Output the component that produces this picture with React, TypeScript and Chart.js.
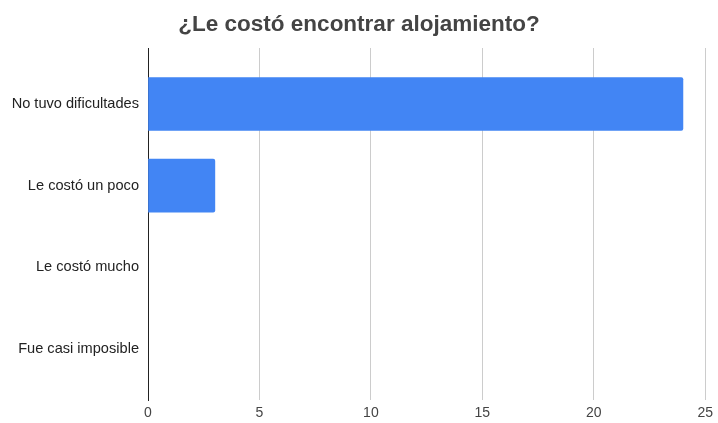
import React, { useEffect, useRef } from "react";
import { Chart, registerables } from "chart.js";

Chart.register(...registerables);

const title = "¿Le costó encontrar alojamiento?";
const categories = ["No tuvo dificultades", "Le costó un poco", "Le costó mucho", "Fue casi imposible"];
const values = [24, 3, 0, 0];
const xTicks = [0, 5, 10, 15, 20, 25];

const FONT = "'Liberation Sans', Arial, sans-serif";

export default function App() {
  const ref = useRef<HTMLCanvasElement>(null);
  useEffect(() => {
    if (!ref.current) return;
    const chart = new Chart(ref.current, {
      type: "bar",
      data: {
        datasets: [
          {
            data: values.map((v, i) => ({ x: v, y: i })),
            backgroundColor: values.map((v) => (v > 0 ? "#4285f4" : "rgba(0,0,0,0)")),
            borderRadius: 2,
            borderSkipped: "start",
            barThickness: 53,
          },
        ],
      },
      options: {
        indexAxis: "y",
        animation: false,
        responsive: false,
        maintainAspectRatio: false,
        layout: { padding: { top: 0, right: 10, bottom: 0, left: 10 } },
        plugins: {
          legend: { display: false },
          tooltip: { enabled: false },
          title: {
            display: true,
            text: title,
            color: "#444444",
            font: { family: FONT, size: 22.5, weight: "bold" },
            padding: { top: 11, bottom: 10 },
          },
        },
        scales: {
          x: {
            type: "linear",
            min: xTicks[0],
            max: xTicks[xTicks.length - 1],
            afterBuildTicks: (s: any) => {
              s.ticks = xTicks.map((v) => ({ value: v }));
            },
            afterFit: (s: any) => {
              s.height = 23;
            },
            grid: { color: "#cccccc", drawTicks: false, lineWidth: 1 },
            border: { display: false },
            ticks: {
              padding: 5,
              color: "#444444",
              font: { family: FONT, size: 14 },
            },
          },
          y: {
            type: "linear",
            reverse: true,
            offset: false,
            z: 1,
            min: -0.686,
            max: 3.624,
            afterBuildTicks: (s: any) => {
              s.ticks = categories.map((_, i) => ({ value: i }));
            },
            afterFit: (s: any) => {
              s.width = 138;
            },
            grid: { display: false, drawTicks: false, offset: false },
            border: { display: true, color: "#222222", width: 1 },
            ticks: {
              padding: 9,
              color: "#222222",
              font: { family: FONT, size: 14.6 },
              callback: (v: any) => categories[v as number] ?? "",
            },
          },
        },
      } as any,
    });
    return () => chart.destroy();
  }, []);
  return (
    <div style={{ position: "fixed", left: 0, top: 0, width: 718, height: 423, background: "#fff" }}>
      <canvas ref={ref} width={718} height={423} style={{ width: 718, height: 423 }} />
    </div>
  );
}
